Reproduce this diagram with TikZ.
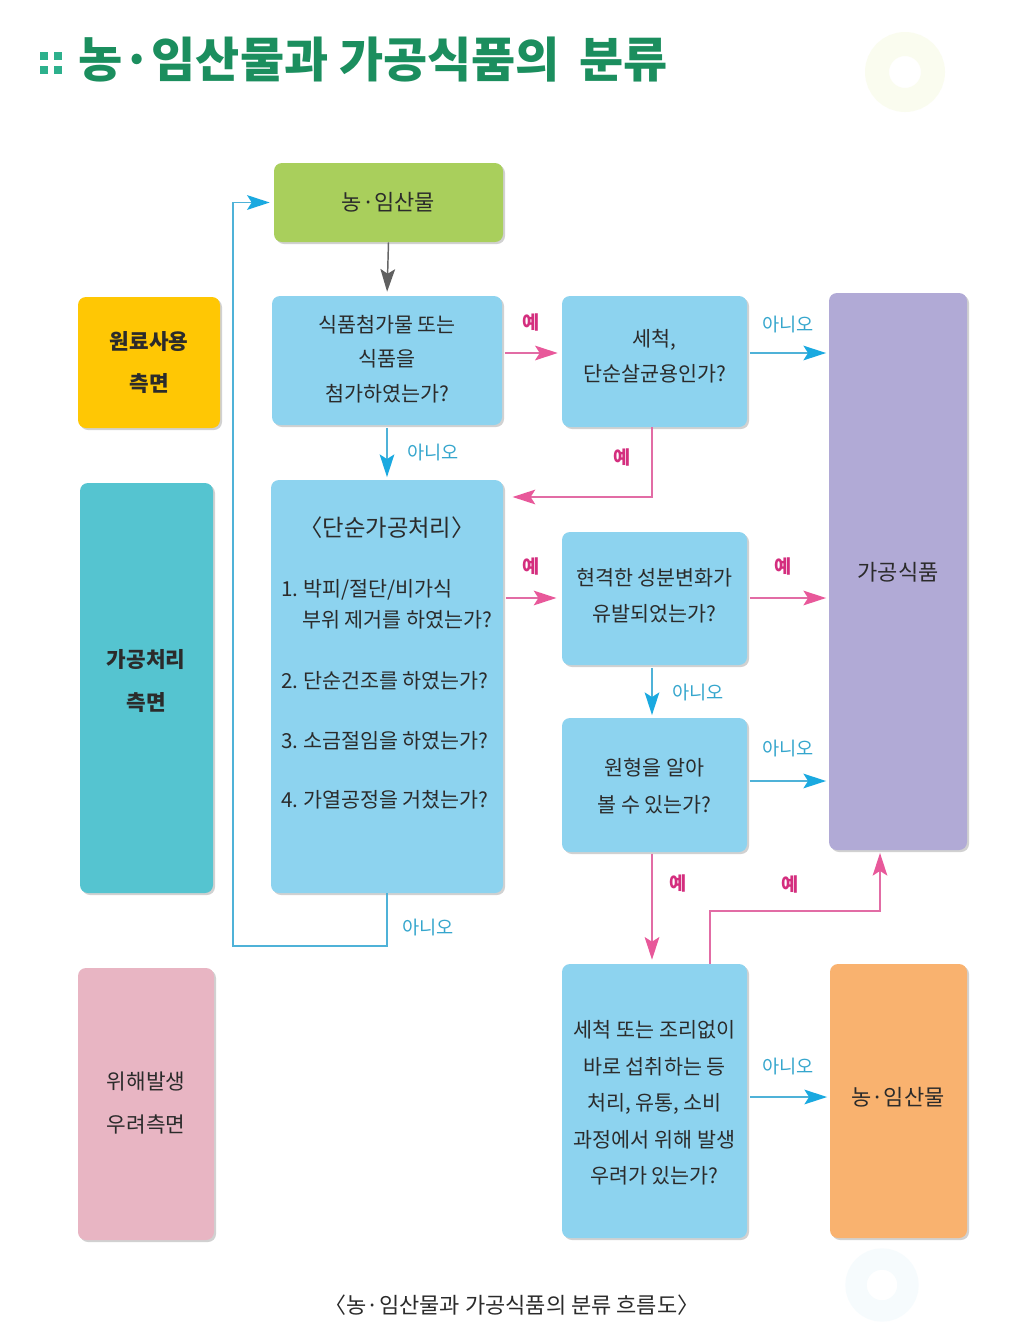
\documentclass[tikz,border=0pt]{standalone}
\usepackage{fontspec}
\setmainfont{Noto Sans CJK KR}
\usetikzlibrary{arrows.meta,shadows}
\definecolor{qblue}{HTML}{8DD3EF}
\definecolor{farmgreen}{HTML}{A9CF5C}
\definecolor{procpurple}{HTML}{B1AAD6}
\definecolor{farmorange}{HTML}{F9B26F}
\definecolor{sideyellow}{HTML}{FFC704}
\definecolor{sideteal}{HTML}{55C4D0}
\definecolor{sidepink}{HTML}{E8B5C3}
\definecolor{pinkline}{HTML}{E26CA5}
\definecolor{pinkhead}{HTML}{E8589A}
\definecolor{pinklabel}{HTML}{D42E7E}
\definecolor{blueline}{HTML}{4FB2D8}
\definecolor{bluehead}{HTML}{1AA9E0}
\definecolor{bluelabel}{HTML}{35A6CD}
\definecolor{titlegreen}{HTML}{1B8E5E}
\definecolor{dotgreen}{HTML}{2DB08C}
\definecolor{txt}{HTML}{2B2B2B}
\tikzset{
  boxbase/.style 2 args={rectangle, rounded corners=6pt, inner sep=0pt,
    minimum width=#1*0.75pt, minimum height=#2*0.75pt, align=center, text=txt,
    drop shadow={shadow xshift=1.5pt, shadow yshift=-1.5pt, opacity=0.18, fill=black}},
  qbox/.style 2 args={boxbase={#1}{#2}, fill=qblue, font=\fontsize{15.5}{26.5}\selectfont},
  bodytxt/.style={text=txt, font=\fontsize{15.5}{26}\selectfont, inner sep=0pt},
  sidetxt/.style={font=\fontsize{16}{32}\selectfont\bfseries},
  pinkarr/.style={draw=pinkline, line width=1.1pt, -{Stealth[length=17pt,width=11pt,inset=3.5pt,color=pinkhead]}},
  bluearr/.style={draw=blueline, line width=1.1pt, -{Stealth[length=17pt,width=11pt,inset=3.5pt,color=bluehead]}},
  grayarr/.style={draw=gray!80!black, line width=1.1pt, -{Stealth[length=17pt,width=11pt,inset=3.5pt,color=gray!75!black]}},
  yeslbl/.style={text=pinklabel, font=\fontsize{14}{16}\selectfont\bfseries, inner sep=0pt},
  nolbl/.style={text=bluelabel, font=\fontsize{14}{16}\selectfont, inner sep=0pt},
  dotsq/.style={fill=dotgreen, minimum size=5.5pt, inner sep=0pt}
}
\begin{document}
\begin{tikzpicture}[x=0.75pt,y=-0.75pt]
\useasboundingbox[fill=white] (0,0) rectangle (1014,1336);

% faint decorations
\draw[line width=18pt, color=farmgreen!60!yellow, opacity=0.08] (905,72) circle (28);
\draw[line width=16pt, color=qblue, opacity=0.08] (882,1285) circle (26);

% title
\node[dotsq] (d1) at (44,56) {};
\node[dotsq] (d2) at (58,56) {};
\node[dotsq] (d3) at (44,70) {};
\node[dotsq] (d4) at (58,70) {};
\node[anchor=west, text=titlegreen, font=\fontsize{36}{40}\selectfont\bfseries, inner sep=0pt] (title) at (78,60) {농·임산물과 가공식품의\, 분류};

% side boxes
\node[boxbase={142}{131}, fill=sideyellow] (side1) at (149,362.5) {};
\node[sidetxt, align=center, text=txt] (side1t) at (side1) {원료사용\\측면};
\node[boxbase={133}{410}, fill=sideteal] (side2) at (146.5,688) {};
\node[sidetxt, align=center, text=txt] (side2t) at (146,681) {가공처리\\측면};
\node[boxbase={136}{272}, fill=sidepink] (side3) at (146,1104) {};
\node[font=\fontsize{16}{32}\selectfont, align=center, text=txt] (side3t) at (146,1103) {위해발생\\우려측면};

% main boxes
\node[boxbase={229}{79}, fill=farmgreen, font=\fontsize{16.5}{20}\selectfont] (farm1) at (388.5,202.5) {농·임산물};
\node[qbox={230}{129}] (q1) at (387,360.5) {};
\node[bodytxt, align=center] (q1t) at (387,359) {식품첨가물 또는\\식품을\\첨가하였는가?};
\node[qbox={185}{131}] (q2) at (654.5,361.5) {};
\node[bodytxt, align=center, font=\fontsize{15.5}{26.5}\selectfont] (q2t) at (654.5,356) {세척,\\단순살균용인가?};
\node[boxbase={138}{557}, fill=procpurple] (proc) at (898,571.5) {};
\node[text=txt, font=\fontsize{16.5}{20}\selectfont, inner sep=0pt] (proct) at (898,572) {가공식품};
\node[qbox={232}{413}] (simple) at (387,686.5) {};
\node[text=txt, font=\fontsize{17.5}{20}\selectfont, inner sep=0pt] (st) at (387,528) {〈단순가공처리〉};
\node[bodytxt, anchor=west] (s1a) at (281,590) {1.\ 박피/절단/비가식};
\node[bodytxt, anchor=west] (s1b) at (302,620) {부위 제거를 하였는가?};
\node[bodytxt, anchor=west] (s2) at (281,681) {2.\ 단순건조를 하였는가?};
\node[bodytxt, anchor=west] (s3) at (281,741) {3.\ 소금절임을 하였는가?};
\node[bodytxt, anchor=west] (s4) at (281,800) {4.\ 가열공정을 거쳤는가?};
\node[qbox={185}{133}] (q3) at (654.5,598.5) {};
\node[bodytxt, align=center, font=\fontsize{15.5}{27}\selectfont] (q3t) at (654.5,596) {현격한 성분변화가\\유발되었는가?};
\node[qbox={185}{134}] (q4) at (654.5,785) {};
\node[bodytxt, align=center, font=\fontsize{15.5}{27.5}\selectfont] (q4t) at (654.5,786) {원형을 알아\\볼 수 있는가?};
\node[qbox={185}{274}] (q5) at (654.5,1101) {};
\node[bodytxt, align=center, font=\fontsize{15.5}{27.3}\selectfont] (q5t) at (654.5,1103) {세척 또는 조리없이\\바로 섭취하는 등\\처리, 유통, 소비\\과정에서 위해 발생\\우려가 있는가?};
\node[boxbase={137}{274}, fill=farmorange] (farm2) at (898.5,1101) {};
\node[text=txt, font=\fontsize{16.5}{20}\selectfont, inner sep=0pt] (farm2t) at (898,1097) {농·임산물};

% routing coordinates
\coordinate (r353) at (0,353);
\coordinate (r497) at (0,497);
\coordinate (r598) at (0,598);
\coordinate (r781) at (0,781);
\coordinate (r1097) at (0,1097);
\coordinate (c1) at (710,911);
\coordinate (c2) at (880,911);
\coordinate (c3) at (233,946);
\coordinate (c4) at (652,0);

% connectors
\draw[grayarr, shorten >=3pt] (farm1.south) -- (q1.north);
\draw[pinkarr, shorten <=2pt, shorten >=3pt] (q1.east |- r353) -- (q2.west |- r353);
\draw[bluearr, shorten <=2pt, shorten >=2pt] (q2.east |- r353) -- (proc.west |- r353);
\draw[bluearr, shorten <=2pt, shorten >=2pt] (q1.south) -- (simple.north);
\draw[pinkarr, shorten >=7pt] (q2.south -| c4) -- (c4 |- r497) -- (simple.east |- r497);
\draw[pinkarr, shorten <=2pt, shorten >=4pt] (simple.east |- r598) -- (q3.west |- r598);
\draw[pinkarr, shorten <=2pt, shorten >=2pt] (q3.east |- r598) -- (proc.west |- r598);
\draw[bluearr, shorten <=2pt, shorten >=2pt] (q3.south -| c4) -- (q4.north -| c4);
\draw[bluearr, shorten <=2pt, shorten >=2pt] (q4.east |- r781) -- (proc.west |- r781);
\draw[pinkarr, shorten <=1pt, shorten >=3pt] (q4.south -| c4) -- (q5.north -| c4);
\draw[pinkarr, shorten >=2pt] (q5.north -| c1) -- (c1) -- (c2) -- (proc.south -| c2);
\draw[bluearr, shorten <=2pt, shorten >=2pt] (q5.east |- r1097) -- (farm2.west |- r1097);
\draw[bluearr, shorten >=3pt] (simple.south) -- (simple.south |- c3) -- (c3) -- (c3 |- farm1.west) -- (farm1.west);

% labels
\node[yeslbl] (l1) at (531,322) {예};
\node[nolbl] (l2) at (788,325) {아니오};
\node[nolbl] (l3) at (433,453) {아니오};
\node[yeslbl] (l4) at (622,457) {예};
\node[yeslbl] (l5) at (531,566) {예};
\node[yeslbl] (l6) at (783,566) {예};
\node[nolbl] (l7) at (698,692) {아니오};
\node[nolbl] (l8) at (788,748) {아니오};
\node[yeslbl] (l9) at (678,883) {예};
\node[yeslbl] (l10) at (790,884) {예};
\node[nolbl] (l11) at (788,1066) {아니오};
\node[nolbl] (l12) at (428,927) {아니오};

% caption
\node[text=txt, font=\fontsize{16.5}{20}\selectfont, inner sep=0pt] (cap) at (512,1305) {〈농·임산물과 가공식품의 분류 흐름도〉};
\end{tikzpicture}
\end{document}
